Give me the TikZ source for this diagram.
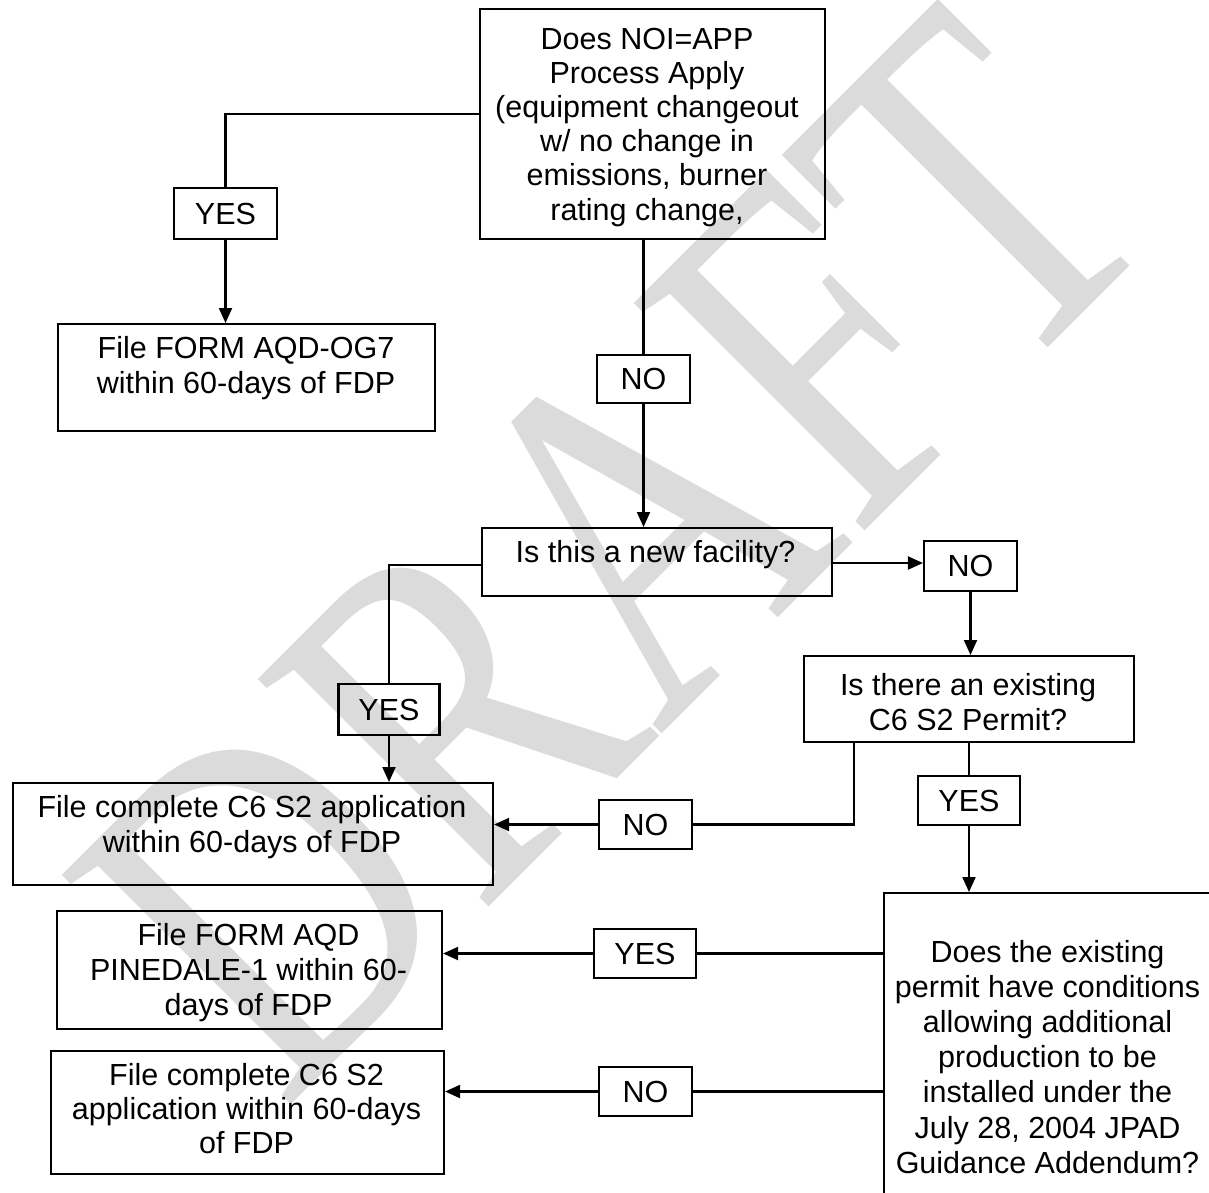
\documentclass[tikz,border=0pt]{standalone}
\usepackage{fontspec}
\usepackage{graphicx}
\setmainfont{Liberation Sans}
\newfontfamily\wmfont{Liberation Serif}
\usetikzlibrary{arrows.meta,calc}
\tikzset{
  box/.style={draw=black, line width=2.1pt, inner sep=0pt, anchor=north west},
  lbl/.style={draw=black, line width=2.1pt, inner sep=0pt, font=\fontsize{30.5}{34}\selectfont},
  txt/.style={inner sep=0pt, anchor=base},
  conn/.style={line width=2.1pt},
  arr/.style={line width=2.1pt, -{Triangle[length=15pt,width=13pt]}}
}
\newcommand{\mlines}[2]{\fontsize{30.5}{#1}\selectfont\begin{tabular}[t]{@{}c@{}}#2\end{tabular}}
\begin{document}
\begin{tikzpicture}[x=1pt,y=1pt]
\useasboundingbox (0,0) rectangle (1209,-1192);
\clip (0,0) rectangle (1209,-1192);
\fill[white] (0,0) rectangle (1209,-1192);
% watermark
\node[rotate=45, anchor=base west, inner sep=0pt, text=black!14] (wm) at (283.5,-1112.5)
  {\wmfont\fontsize{495}{495}\selectfont\scalebox{0.774}[1]{DRAFT}};
% main boxes
\node[box, minimum width=345pt, minimum height=230pt] (b0) at (479,-8) {};
\node[box, minimum width=377pt, minimum height=107pt] (b1) at (57,-323) {};
\node[box, minimum width=350pt, minimum height=68pt] (b2) at (481,-527) {};
\node[box, minimum width=330pt, minimum height=86pt] (b3) at (803,-655) {};
\node[box, minimum width=480pt, minimum height=102pt] (b4) at (12,-782) {};
\node[box, minimum width=332pt, minimum height=334pt] (b5) at (883,-892) {};
\node[box, minimum width=385pt, minimum height=118pt] (b6) at (56,-910) {};
\node[box, minimum width=393pt, minimum height=123pt] (b7) at (50,-1050) {};
% texts
\node[txt] (t0) at (647,-49.5) {\mlines{34.1}{Does NOI=APP\\Process Apply\\(equipment changeout\\w/ no change in\\emissions, burner\\rating change,}};
\node[txt] (t1) at (246,-358) {\mlines{35}{File FORM AQD-OG7\\within 60-days of FDP}};
\node[txt] (t2) at (655.5,-562) {\mlines{35}{Is this a new facility?}};
\node[txt] (t3) at (968,-695) {\mlines{35}{Is there an existing\\C6 S2 Permit?}};
\node[txt] (t4) at (252,-817) {\mlines{35}{File complete C6 S2 application\\within 60-days of FDP}};
\node[txt] (t5) at (1047.5,-962) {\mlines{35.2}{Does the existing\\permit have conditions\\allowing additional\\production to be\\installed under the\\July 28, 2004 JPAD\\Guidance Addendum?}};
\node[txt] (t6) at (248.5,-945) {\mlines{35}{File FORM AQD\\PINEDALE-1 within 60-\\days of FDP}};
\node[txt] (t7) at (246.5,-1085) {\mlines{34}{File complete C6 S2\\application within 60-days\\of FDP}};
% label boxes
\node[lbl, minimum width=103pt, minimum height=51pt] (yes1) at (225.5,-213.5) {YES};
\node[lbl, minimum width=93pt, minimum height=48pt] (no1) at (643.5,-379) {NO};
\node[lbl, minimum width=93pt, minimum height=50pt] (no2) at (970.5,-566) {NO};
\node[lbl, minimum width=101pt, minimum height=51pt] (yes2) at (389,-709.5) {YES};
\node[lbl, minimum width=93pt, minimum height=49pt] (no3) at (645.5,-824.5) {NO};
\node[lbl, minimum width=102pt, minimum height=49pt] (yes3) at (969,-800.5) {YES};
\node[lbl, minimum width=102pt, minimum height=49pt] (yes4) at (645,-953.5) {YES};
\node[lbl, minimum width=93pt, minimum height=49pt] (no4) at (645.5,-1091.5) {NO};
% helper coordinates
\coordinate (y114) at (0,-114);
\coordinate (y563) at (0,-563);
\coordinate (y565) at (0,-565);
\coordinate (x854) at (854,0);
% connectors
\draw[conn] (b0.west |- y114) -| (yes1.north);
\draw[arr] (yes1.south) -- (yes1.south |- b1.north);
\draw[conn] (no1.north |- b0.south) -- (no1.north);
\draw[arr] (no1.south) -- (no1.south |- b2.north);
\draw[arr] (b2.east |- y563) -- (no2.west |- y563);
\draw[arr] (no2.south) -- (no2.south |- b3.north);
\draw[conn] (b2.west |- y565) -| (yes2.north);
\draw[arr] (yes2.south) -- (yes2.south |- b4.north);
\draw[conn] (x854 |- b3.south) |- (no3.east);
\draw[arr] (no3.west) -- (no3.west -| b4.east);
\draw[conn] (yes3.north |- b3.south) -- (yes3.north);
\draw[arr] (yes3.south) -- (yes3.south |- b5.north);
\draw[conn] (b5.west |- yes4.east) -- (yes4.east);
\draw[arr] (yes4.west) -- (yes4.west -| b6.east);
\draw[conn] (b5.west |- no4.east) -- (no4.east);
\draw[arr] (no4.west) -- (no4.west -| b7.east);
\end{tikzpicture}
\end{document}
